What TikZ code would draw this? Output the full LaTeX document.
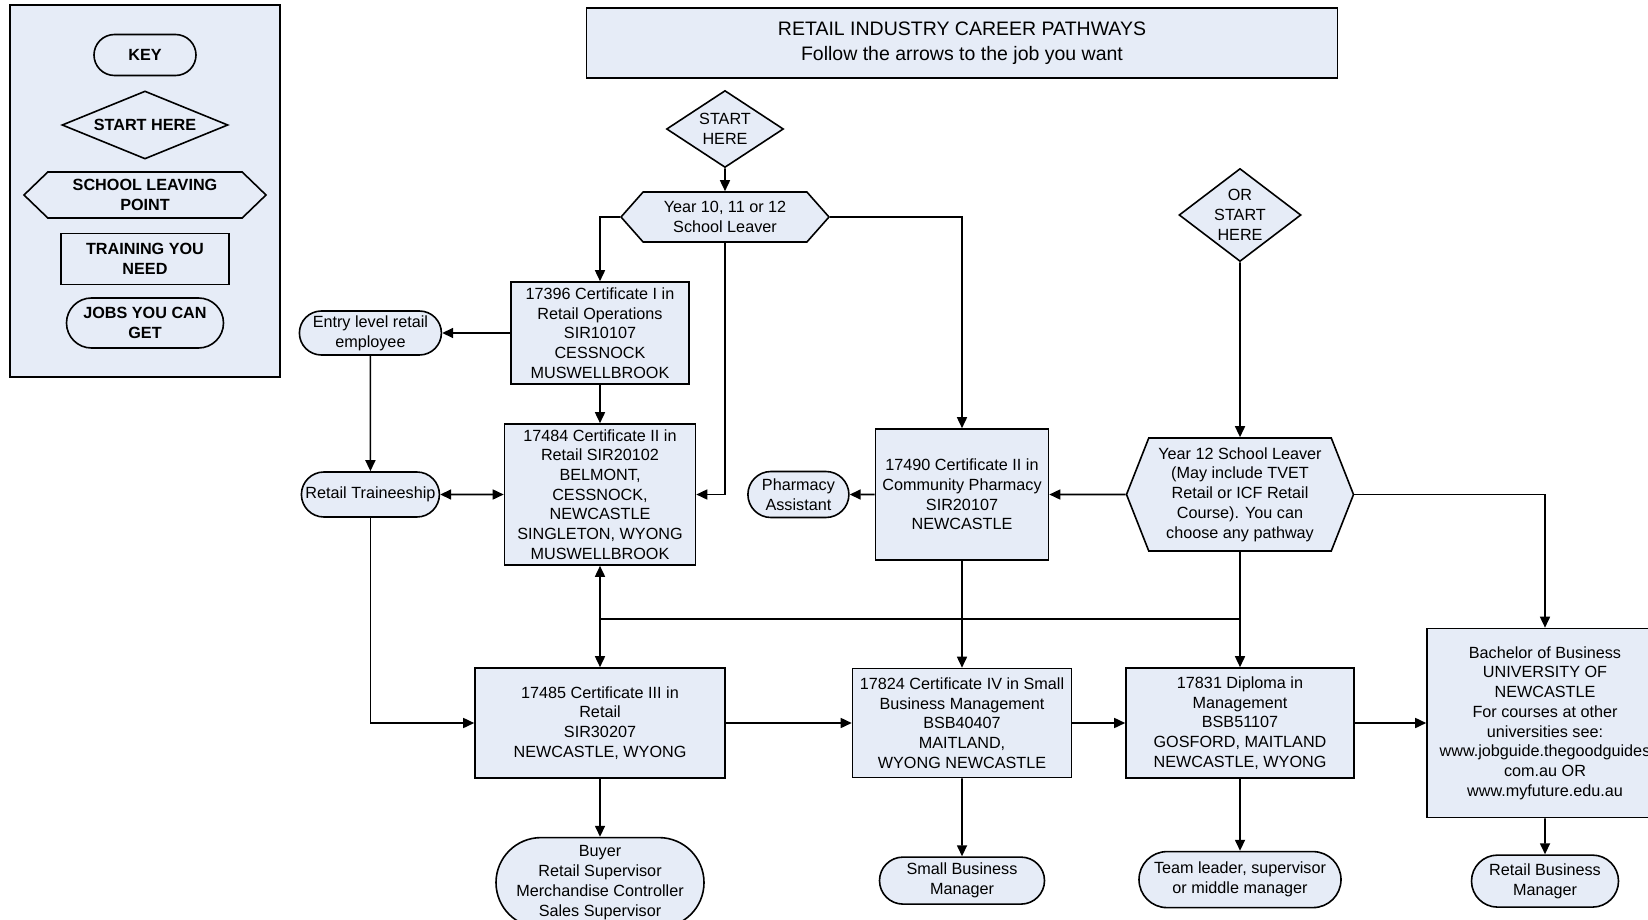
\documentclass[tikz,border=0pt]{standalone}
\usepackage{fontspec}
\setmainfont{Liberation Sans}
\usepackage{tikz}
\usetikzlibrary{shapes.geometric, shapes.misc, shapes.symbols, arrows.meta, positioning}
\definecolor{pathfill}{RGB}{230,236,247}
\newcommand{\pwtext}{\fontsize{16.2}{19.7}\selectfont}
\newcommand{\pwkey}{\fontsize{16.2}{19.7}\selectfont\bfseries}
\newcommand{\pwtitle}{\fontsize{19.5}{25}\selectfont}
\tikzset{
  pwbox/.style   = {rectangle, draw=black, line width=1.6pt, fill=pathfill,
                    align=center, font=\pwtext, inner sep=1pt},
  pwjob/.style   = {pwbox, rounded rectangle},
  pwstart/.style = {pwbox, diamond, inner sep=0pt},
  pwleave/.style = {pwbox, signal, signal to=west and east},
  pwkeytxt/.style = {font=\pwkey},
  pwline/.style  = {draw=black, line width=1.6pt},
  pwarrow/.style = {pwline, -{Triangle[length=11pt, width=10pt]}},
  pwboth/.style  = {pwline, {Triangle[length=11pt, width=10pt]}-{Triangle[length=11pt, width=10pt]}},
}
\begin{document}
\begin{tikzpicture}[x=1pt, y=-1pt, node distance=20pt and 20pt]
  \useasboundingbox (0,0) rectangle (1648,920);
  \clip (0,0) rectangle (1648,920);

  \node[pwbox, minimum width=270pt, minimum height=372pt] (keypanel) at (145,191) {};
  \node[pwjob, pwkeytxt, minimum width=104pt, minimum height=41pt] (keyhead) at (145,55) {KEY};
  \node[pwstart, pwkeytxt, aspect=2.4, minimum width=166pt, minimum height=68pt] (keystart)
    at (145,125) {START HERE};
  \node[pwleave, pwkeytxt, signal pointer angle=88, minimum width=242pt, minimum height=46pt]
    (keyleave) at (145,195) {SCHOOL LEAVING\\POINT};
  \node[pwbox, pwkeytxt, minimum width=168pt, minimum height=51pt] (keytrain)
    at (145,259) {TRAINING YOU\\NEED};
  \node[pwjob, pwkeytxt, minimum width=159pt, minimum height=50pt] (keyjobs)
    at (145,323) {JOBS YOU CAN\\GET};

  \node[pwbox, font=\pwtitle, minimum width=751pt, minimum height=70pt] (title) at (962,43)
    {RETAIL INDUSTRY CAREER PATHWAYS\\Follow the arrows to the job you want};

  \node[pwstart, aspect=1.5, minimum width=117pt, minimum height=77pt] (start) at (725,129)
    {START\\HERE};
  \node[pwleave, signal pointer angle=97, minimum width=208pt, minimum height=50pt] (leaver)
    at (725,217) {Year 10, 11 or 12\\School Leaver};
  \node[pwstart, aspect=1.3, inner sep=-8pt, minimum width=122pt, minimum height=93pt]
    (orstart) at (1240,215) {OR\\START\\HERE};

  \node[pwbox, minimum width=178pt, minimum height=102pt] (certone) at (600,333)
    {17396 Certificate I in\\Retail Operations\\SIR10107\\CESSNOCK\\MUSWELLBROOK};
  \node[pwjob, left=68pt of certone, minimum width=144pt, minimum height=44pt] (entry)
    {Entry level retail\\employee};
  \node[pwbox, minimum width=191pt, minimum height=141pt] (certtwo) at (600,494.5)
    {17484 Certificate II in\\Retail SIR20102\\BELMONT,\\CESSNOCK,\\NEWCASTLE\\SINGLETON, WYONG\\MUSWELLBROOK};
  \node[pwjob, left=63.5pt of certtwo, minimum width=140pt, minimum height=45pt] (trainee)
    {Retail Traineeship};

  \node[pwbox, minimum width=173pt, minimum height=131pt] (pharmcert) at (962,494.5)
    {17490 Certificate II in\\Community Pharmacy\\SIR20107\\NEWCASTLE};
  \node[pwjob, left=25pt of pharmcert, minimum width=103pt, minimum height=46pt] (pharm)
    {Pharmacy\\Assistant};
  \node[pwleave, signal pointer angle=137, minimum width=227pt, minimum height=113pt]
    (yrtwelve) at (1240,494.5)
    {Year 12 School Leaver\\(May include TVET\\Retail or ICF Retail\\Course). You can\\choose any pathway};

  \node[pwbox, minimum width=250pt, minimum height=110pt] (certthree) at (600,723)
    {17485 Certificate III in\\Retail\\SIR30207\\NEWCASTLE, WYONG};
  \node[pwbox, minimum width=219pt, minimum height=109pt] (certfour) at (962,723)
    {17824 Certificate IV in Small\\Business Management\\BSB40407\\MAITLAND,\\WYONG NEWCASTLE};
  \node[pwbox, minimum width=228pt, minimum height=110pt] (diploma) at (1240,723)
    {17831 Diploma in\\Management\\BSB51107\\GOSFORD, MAITLAND\\NEWCASTLE, WYONG};
  \node[pwbox, minimum width=236pt, minimum height=189pt] (bachelor) at (1545,723)
    {Bachelor of Business\\UNIVERSITY OF\\NEWCASTLE\\For courses at other\\universities see:\\www.jobguide.thegoodguides\\com.au OR\\www.myfuture.edu.au};

  \node[pwjob, below=58pt of certthree, minimum width=210pt, minimum height=90pt] (buyer)
    {Buyer\\Retail Supervisor\\Merchandise Controller\\Sales Supervisor};
  \node[pwjob, below=78pt of certfour, minimum width=167pt, minimum height=47pt] (smallbiz)
    {Small Business\\Manager};
  \node[pwjob, below=72pt of diploma, minimum width=204pt, minimum height=56pt] (teamlead)
    {Team leader, supervisor\\or middle manager};
  \node[pwjob, below=36pt of bachelor, minimum width=149pt, minimum height=52pt] (bizmgr)
    {Retail Business\\Manager};

  \coordinate (split) at (600,619);
  \coordinate (merge) at (1240,619);

  \draw[pwarrow] (start) -- (leaver);
  \draw[pwarrow] (leaver.west) -| (certone.north);
  \draw[pwarrow] (leaver.south) |- (certtwo.east);
  \draw[pwarrow] (leaver.east) -| (pharmcert.north);
  \draw[pwarrow] (certone) -- (entry);
  \draw[pwarrow] (certone) -- (certtwo);
  \draw[pwarrow] (entry) -- (trainee);
  \draw[pwboth] (trainee) -- (certtwo);
  \draw[pwarrow] (trainee.south) |- (certthree.west);
  \draw[pwarrow] (pharmcert) -- (pharm);
  \draw[pwarrow] (yrtwelve) -- (pharmcert);
  \draw[pwarrow] (orstart) -- (yrtwelve);
  \draw[pwarrow] (yrtwelve.east) -| (bachelor.north);
  \draw[pwarrow] (yrtwelve) -- (diploma);
  \draw[pwline] (merge) -- (split);
  \draw[pwarrow] (split) -- (certtwo);
  \draw[pwarrow] (split) -- (certthree);
  \draw[pwarrow] (pharmcert) -- (certfour);
  \draw[pwarrow] (certthree) -- (certfour);
  \draw[pwarrow] (certfour) -- (diploma);
  \draw[pwarrow] (diploma) -- (bachelor);
  \draw[pwarrow] (certthree) -- (buyer);
  \draw[pwarrow] (certfour) -- (smallbiz);
  \draw[pwarrow] (diploma) -- (teamlead);
  \draw[pwarrow] (bachelor) -- (bizmgr);
\end{tikzpicture}
\end{document}
